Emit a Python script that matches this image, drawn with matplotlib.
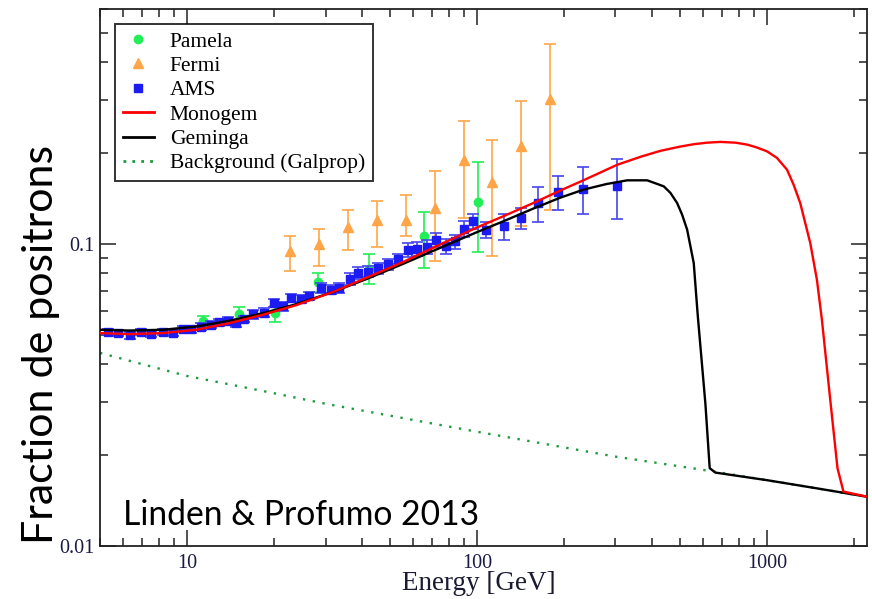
import matplotlib
matplotlib.use("Agg")
import matplotlib.pyplot as plt
from matplotlib.lines import Line2D
from matplotlib.ticker import LogLocator, NullFormatter, FixedLocator, FixedFormatter

# ---------------- data ----------------
pamela_E = [11.3, 15.1, 20.1, 28.2, 42.5, 65.7, 100.8]
pamela_F = [0.0554, 0.0587, 0.0591, 0.0750, 0.0826, 0.1065, 0.1374]
pamela_hi = [0.0576, 0.0618, 0.0621, 0.0803, 0.0929, 0.1280, 0.1864]
pamela_lo = [0.0532, 0.0556, 0.0550, 0.0695, 0.0739, 0.0833, 0.0938]

fermi_E = [22.6, 28.5, 35.9, 45.1, 56.8, 71.5, 89.8, 113, 142, 179]
fermi_F = [0.0945, 0.100, 0.1141, 0.1203, 0.1197, 0.1316, 0.190, 0.161, 0.2118, 0.3024]
fermi_hi = [0.1065, 0.1124, 0.130, 0.1384, 0.1449, 0.174, 0.255, 0.2216, 0.297, 0.460]
fermi_lo = [0.0816, 0.0848, 0.0957, 0.0977, 0.106, 0.0876, 0.122, 0.0915, 0.115, 0.130]

ams_E = [5.33, 5.77, 6.33, 6.94, 7.52, 8.25, 8.93, 9.66, 10.32, 11.17,
         12.10, 12.92, 13.81, 14.75, 15.75, 16.84, 18.46, 19.98, 21.37, 22.81,
         24.70, 26.38, 28.94, 31.33, 33.46, 36.43, 38.97, 41.93, 45.5, 49.25,
         53.2, 57.6, 62.0, 67.1, 72.1, 78.0, 83.6, 90.0, 96.9, 107.6,
         123.9, 142.2, 162.7, 190.1, 232.6, 304.6]
ams_F = [0.0513, 0.0507, 0.0498, 0.0513, 0.0504, 0.0513, 0.0509, 0.0523, 0.0523, 0.0533,
         0.0540, 0.0550, 0.0558, 0.0547, 0.0564, 0.0586, 0.0593, 0.0637, 0.0621, 0.0662,
         0.0657, 0.0671, 0.0715, 0.0706, 0.0715, 0.0767, 0.0802, 0.0810, 0.0830, 0.0857,
         0.0895, 0.0957, 0.0965, 0.0980, 0.1033, 0.0982, 0.1020, 0.1121, 0.1188, 0.1115,
         0.1144, 0.1219, 0.1367, 0.1487, 0.1525, 0.1561]
ams_err = [0.0012, 0.0012, 0.0012, 0.0012, 0.0012, 0.0012, 0.0012, 0.0012, 0.0014, 0.0014,
           0.0014, 0.0014, 0.0014, 0.0014, 0.0014, 0.0020, 0.0020, 0.0020, 0.0020, 0.0020,
           0.0020, 0.0020, 0.0025, 0.0025, 0.0025, 0.0035, 0.0035, 0.0035, 0.0035, 0.0035,
           0.0035, 0.0050, 0.0050, 0.0050, 0.0055, 0.0055, 0.0055, 0.0070, 0.0070, 0.0070,
           0.0110, 0.0100, 0.0180, 0.0195, 0.0270, 0.0350]

mono_E = [5.0, 6.31, 8.25, 10.74, 13.99, 18.23, 23.74, 32, 41.9, 55, 71.1, 100, 125,
          157.2, 194.2, 233.7, 304.6, 370, 429.4, 500, 559.2, 620, 691, 780, 854, 920,
          1000.7, 1083, 1173, 1236, 1303, 1411, 1488, 1548, 1654, 1752, 1837, 2250]
mono_F = [0.0507, 0.0503, 0.0507, 0.0520, 0.0547, 0.0583, 0.0627, 0.0695, 0.0776, 0.0868,
          0.0975, 0.1135, 0.1243, 0.1370, 0.1505, 0.1628, 0.1830, 0.1950, 0.2035, 0.2100,
          0.2140, 0.2165, 0.2178, 0.2165, 0.2134, 0.2090, 0.2027, 0.1928, 0.1763, 0.1573,
          0.1367, 0.1008, 0.0761, 0.0561, 0.0305, 0.0181, 0.01514, 0.01452]

gem_E = [5.0, 6.31, 8.25, 10.74, 13.99, 18.23, 23.74, 32, 41.9, 55, 71.1, 100, 125,
         157.2, 194.2, 233.7, 280, 329.6, 386.4, 440.8, 464.8, 490, 510, 530.7,
         559.2, 577.3, 613.6, 634.8, 664.2, 1000, 1500, 2250]
gem_F = [0.0520, 0.0517, 0.0520, 0.0533, 0.0557, 0.0590, 0.0632, 0.0695, 0.0768, 0.0856,
         0.0952, 0.1095, 0.1196, 0.1313, 0.1425, 0.1515, 0.1580, 0.1625, 0.1625, 0.1552,
         0.1476, 0.1367, 0.1250, 0.1115, 0.0865, 0.0580, 0.0295, 0.0181, 0.0175, 0.01652,
         0.0155, 0.01452]

bg_E = [5, 7, 10, 15, 20, 30, 50, 70, 100, 150, 200, 300, 500, 700, 1000, 1500, 2250]
bg_F = [0.0436, 0.0400, 0.03654, 0.03384, 0.03203, 0.02958, 0.02702, 0.02545, 0.0239,
        0.02229, 0.0212, 0.01977, 0.01836, 0.01747, 0.01652, 0.0155, 0.01452]

x_ticks = [10, 100, 1000]
x_tick_labels = ["10", "100", "1000"]
y_ticks = [0.01, 0.1]
y_tick_labels = ["0.01", "0.1"]
legend_labels = ["Pamela", "Fermi", "AMS", "Monogem", "Geminga", "Background (Galprop)"]

# ---------------- figure ----------------
W, H = 872, 599
fig = plt.figure(figsize=(W / 100, H / 100), dpi=100)
ax = fig.add_axes([100 / W, 53 / H, 767 / W, 537 / H])
ax.set_xscale("log")
ax.set_yscale("log")
ax.set_xlim(5, 2215)
ax.set_ylim(0.01, 0.6)

serif = ["Liberation Serif", "DejaVu Serif"]
c_pam = "#22ee55"
c_fermi = "#ffa548"
c_ams = "#1c1cf2"
c_ams_err = "#4646ee"
c_green = "#1e9a3c"


def asym(vals, lo, hi):
    return [[v - l for v, l in zip(vals, lo)], [h - v for v, h in zip(vals, hi)]]


ax.plot(bg_E, bg_F, color=c_green, lw=1.7, linestyle=(0, (1, 3.2)), zorder=2)

ax.errorbar(fermi_E, fermi_F, yerr=asym(fermi_F, fermi_lo, fermi_hi), fmt="^",
            color=c_fermi, ms=7.5, mec=c_fermi, elinewidth=1.2, capsize=4.2,
            capthick=1.2, zorder=3)
ax.errorbar(pamela_E, pamela_F, yerr=asym(pamela_F, pamela_lo, pamela_hi), fmt="o",
            color=c_pam, ms=6, mec=c_pam, elinewidth=1.2, capsize=4.2,
            capthick=1.2, zorder=3)
ax.errorbar(ams_E, ams_F, yerr=ams_err, fmt="s", color=c_ams, mec=c_ams,
            ecolor=c_ams_err, ms=6.0, elinewidth=1.2, capsize=4.2, capthick=1.2,
            zorder=4)

ax.plot(gem_E, gem_F, color="black", lw=1.7, zorder=5)
ax.plot(mono_E, mono_F, color="#ff0000", lw=1.7, zorder=6)

# ticks
ax.xaxis.set_major_locator(FixedLocator(x_ticks))
ax.xaxis.set_major_formatter(FixedFormatter(x_tick_labels))
ax.xaxis.set_minor_locator(LogLocator(base=10, subs=range(2, 10)))
ax.xaxis.set_minor_formatter(NullFormatter())
ax.yaxis.set_major_locator(FixedLocator(y_ticks))
ax.yaxis.set_major_formatter(FixedFormatter(y_tick_labels))
ax.yaxis.set_minor_locator(LogLocator(base=10, subs=range(2, 10)))
ax.yaxis.set_minor_formatter(NullFormatter())
ax.tick_params(which="both", direction="in", top=True, right=True, width=1.1,
               color="#222222")
ax.tick_params(which="major", length=11.5)
ax.tick_params(which="minor", length=5.8)
ax.tick_params(axis="x", which="major", pad=6)
ax.tick_params(axis="y", which="major", pad=4)
for lab in ax.get_xticklabels() + ax.get_yticklabels():
    lab.set_family(serif)
    lab.set_fontsize(14.5)
    lab.set_color("#1a1a44")
for sp in ax.spines.values():
    sp.set_linewidth(1.3)
    sp.set_color("#222222")

# legend
leg_handles = [
    Line2D([], [], marker="o", ls="none", color=c_pam, ms=6),
    Line2D([], [], marker="^", ls="none", color=c_fermi, ms=7.5),
    Line2D([], [], marker="s", ls="none", color=c_ams, ms=6.0),
    Line2D([], [], color="#ff0000", lw=2.0),
    Line2D([], [], color="black", lw=2.0),
    Line2D([], [], color=c_green, lw=2.0, linestyle=(0, (1, 2.2))),
]
leg = ax.legend(leg_handles, legend_labels, loc="upper left",
                bbox_to_anchor=((115 - 100) / 767, (546 - 24) / 537),
                borderaxespad=0, frameon=True, fancybox=False,
                prop={"family": serif, "size": 15.5}, labelspacing=0.2,
                handlelength=1.45, handletextpad=0.75, borderpad=0.35)
leg.get_frame().set_edgecolor("black")
leg.get_frame().set_linewidth(1.4)

# annotations
ax.text((123 - 100) / 767, (546 - 525) / 537, "Linden & Profumo 2013",
        transform=ax.transAxes, family=["Lato", "DejaVu Sans"], fontsize=24.2,
        va="baseline", ha="left", zorder=10)
fig.text(41 / W, 1 - 345 / H, "Fraction de positrons", rotation=90,
         family=["Lato", "DejaVu Sans"], fontsize=31, va="center", ha="center")
fig.text(479 / W, 1 - 584 / H, "Energy [GeV]", family=serif, fontsize=19.5,
         va="center", ha="center", color="#1a1a30")

fig.savefig("out.png", dpi=100)
